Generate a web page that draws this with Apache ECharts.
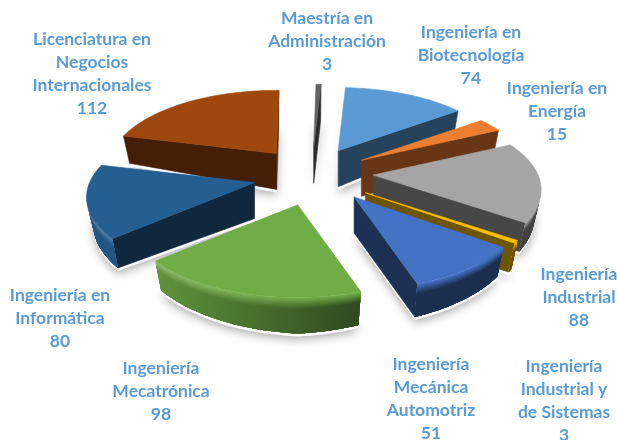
<!DOCTYPE html>
<html><head><meta charset="utf-8">
<style>html,body{margin:0;padding:0;background:#fff}#c{width:617px;height:440px}</style>
<script src="https://cdn.jsdelivr.net/npm/echarts@6/dist/echarts.min.js"></script>
</head><body><div id="c"></div>
<script>
// --- data ---
const categories = ["Ingeniería en\nBiotecnología","Ingeniería en\nEnergía","Ingeniería\nIndustrial","Ingeniería\nIndustrial y\nde Sistemas","Ingeniería\nMecánica\nAutomotriz","Ingeniería\nMecatrónica","Ingeniería en\nInformática","Licenciatura en\nNegocios\nInternacionales","Maestría en\nAdministración"];
const values = [74,15,88,3,51,98,80,112,3];
// --- style ---
const colors = ["#5B9BD5","#ED7D31","#A5A5A5","#FFC000","#4472C4","#70AD47","#255E91","#9E480E","#636363"];
const labelAnchors = [[471,55],[557,111],[579,297],[564,401],[431,399],[161,391],[60,318],[92,74],[327,41]];
const sliceNudge = [[2,1],[3,3],[1,3],[-1,5],[1,1],[5,3],[3,6],[-4,2],[0,0]];
const drawOrder = [8,7,0,1,6,2,3,4,5];
const CX=312, CY=170, RX=165, RY=75, PERSP=0.19, EXPLODE=0.36, DEPTH=36, SHRINK=0.96, STEP=2, ROT=3*Math.PI/180;

const total = values.reduce((a,b)=>a+b,0);
const starts=[]; let acc=0; values.forEach(v=>{starts.push(ROT+acc/total*2*Math.PI); acc+=v;});
function proj(t,f){const c=Math.cos(t),s=1/(1+PERSP*c);return [f*RX*Math.sin(t)*s,-f*RY*c*s];}
function hex(c){return [1,3,5].map(i=>parseInt(c.substr(i,2),16));}
function mix(c,to,t){const a=hex(c);return 'rgb('+a.map(v=>Math.round(v+(to-v)*t)).join(',')+')';}
function clamp(v,a,b){return Math.max(a,Math.min(b,v));}
function sliceGeom(i){
  const t0=starts[i], t1=t0+values[i]/total*2*Math.PI, mid=(t0+t1)/2;
  const o=proj(mid,EXPLODE), apex=[CX+o[0]+sliceNudge[i][0],CY+o[1]+sliceNudge[i][1]];
  const n=Math.max(2,Math.ceil((t1-t0)/(STEP*Math.PI/180)));
  const top=[],bot=[];
  for(let k=0;k<=n;k++){const t=t0+(t1-t0)*k/n,p=proj(t,1);
    top.push([apex[0]+p[0],apex[1]+p[1]]);
    bot.push([apex[0]+p[0]*SHRINK,apex[1]+p[1]+DEPTH*(1-0.25*Math.abs(Math.sin(t)))]);}
  return {apex,bApex:[apex[0],apex[1]+DEPTH],top,bot};
}
function area(q){let s=0;for(let i=0;i<q.length;i++){const a=q[i],b=q[(i+1)%q.length];s+=a[0]*b[1]-b[0]*a[1];}return s;}
function poly(points,fill,stroke){return {type:'polygon',shape:{points},style:{fill,stroke:stroke||fill,lineWidth:0.6,lineJoin:'round'}};}
// wall shade depends on the screen x (light from the left) and on depth d down the wall
function wallColor(base,x,d){
  const dark=clamp(0.15+(x-157)/203*0.43,0.1,0.6);
  if(d>=0.3){return mix(base,0,dark);}
  const u=d/0.3;
  const rimW=0.2*clamp((300-x)/150,0,1);
  const a=hex(base), r=a.map(v=>v+(255-v)*rimW), w=a.map(v=>v*(1-dark));
  return 'rgb('+r.map((v,j)=>Math.round(v+(w[j]-v)*u)).join(',')+')';
}
const BANDS=[0,0.03,0.06,0.09,0.12,0.15,0.18,0.21,0.24,0.27,0.3];
function renderSlice(params,api){
  const i=api.value(0), g=sliceGeom(i), base=colors[i], ch=[];
  const side=mix(base,0,0.57);
  const n=g.top.length-1;
  const q0=[g.apex,g.top[0],g.bot[0],g.bApex], q1=[g.top[n],g.apex,g.bApex,g.bot[n]];
  if(area(q0)<0) ch.push(poly(q0,side));
  if(area(q1)<0) ch.push(poly(q1,side));
  let a=-1,b=-1;
  for(let k=0;k<n;k++){ if(area([g.top[k],g.top[k+1],g.bot[k+1],g.bot[k]])<0){ if(a<0)a=k; b=k+1; } }
  if(a>=0){
    // each band reaches the wall's bottom; the deeper, smaller ones paint over the larger ones
    for(let j=0;j<BANDS.length;j++){
      const d0=BANDS[j], up=[], lo=[];
      for(let k=a;k<=b;k++){
        const T=g.top[k],B=g.bot[k];
        up.push([T[0]+(B[0]-T[0])*d0,T[1]+(B[1]-T[1])*d0]);
        lo.push(B);
      }
      const pts=up.concat(lo.slice().reverse());
      const xs=pts.map(p=>p[0]), mn=Math.min(...xs), mx=Math.max(...xs), stops=[];
      for(let s=0;s<=6;s++){
        const x=mn+(mx-mn)*s/6;
        stops.push({offset:s/6,color:wallColor(base,x,d0)});
      }
      ch.push({type:'polygon',shape:{points:pts},style:{fill:new echarts.graphic.LinearGradient(0,0,1,0,stops)}});
    }
  }
  ch.push(poly([g.apex].concat(g.top),base));
  return {type:'group',children:ch};
}
function renderShadow(params,api){
  const g=sliceGeom(api.value(0));
  const pts=[g.bApex].concat(g.bot).map(p=>[p[0],p[1]+3]);
  return {type:'polygon',shape:{points:pts},style:{fill:'#fff',shadowColor:'rgba(0,0,0,0.32)',shadowBlur:10,shadowOffsetY:3}};
}
function renderLabel(params,api){
  const i=api.value(0), a=labelAnchors[i];
  return {type:'text',style:{text:categories[i]+"\n"+values[i],x:a[0],y:a[1],align:'center',verticalAlign:'middle',
    fontFamily:'Lato',fontWeight:'bold',fontSize:17.5,lineHeight:23,fill:'#5B9BD5'}};
}
const chart=echarts.init(document.getElementById('c'),null,{renderer:'canvas'});
const order=drawOrder.map(i=>[i]);
chart.setOption({animation:false,backgroundColor:'#fff',series:[
  {type:'custom',coordinateSystem:'none',renderItem:renderShadow,data:order,z:1,silent:true},
  {type:'custom',coordinateSystem:'none',renderItem:renderSlice,data:order,z:2},
  {type:'custom',coordinateSystem:'none',renderItem:renderLabel,data:order,z:3,silent:true}
]});
</script></body></html>
